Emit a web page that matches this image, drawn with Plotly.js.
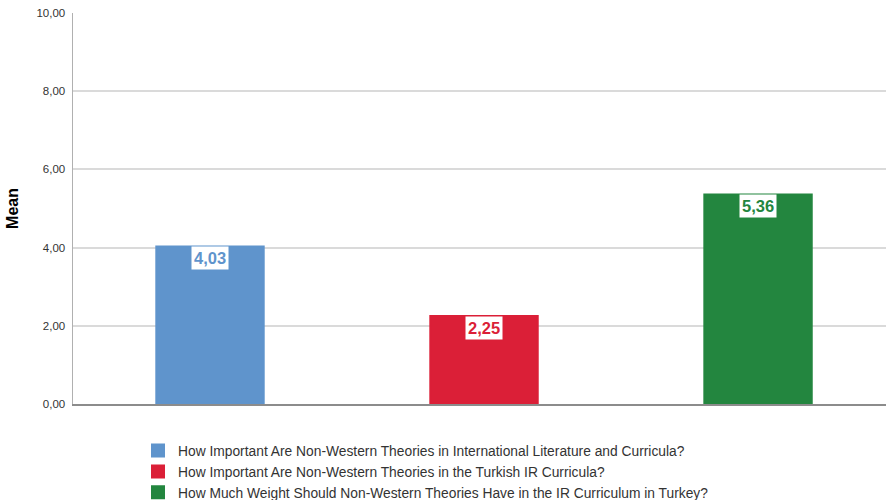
<!DOCTYPE html>
<html>
<head>
<meta charset="utf-8">
<script src="https://cdn.plot.ly/plotly-3.0.1.min.js"></script>
<style>
  html, body { margin: 0; padding: 0; background: #ffffff; }
  #chart { width: 886px; height: 500px; }
</style>
</head>
<body>
<div id="chart"></div>
<script>
// Survey questions (one bar each) and their mean scores
const questions = [
  "How Important Are Non-Western Theories in International Literature and Curricula?",
  "How Important Are Non-Western Theories in the Turkish IR Curricula?",
  "How Much Weight Should Non-Western Theories Have in the IR Curriculum in Turkey?"
];
const means = [4.03, 2.25, 5.36];
const barColors = ["#5f94cc", "#db1f37", "#23863f"];
const yTicks = [0, 2, 4, 6, 8, 10];

const traces = questions.map((q, i) => ({
  type: "bar",
  name: q,
  x: [i],
  y: [means[i]],
  width: 0.392,
  marker: { color: barColors[i], line: { width: 2, color: barColors[i] } },
  hoverinfo: "skip"
}));

// Value labels: white box at the top inside each bar
const labels = questions.map((q, i) => ({
  x: i,
  y: means[i],
  xref: "x",
  yref: "y",
  text: means[i].toFixed(2).replace(".", ","),
  showarrow: false,
  yanchor: "top",
  yshift: 0,
  bgcolor: "#ffffff",
  borderpad: 2,
  font: { family: "Arial, Liberation Sans, sans-serif", size: 16.5, weight: "bold", color: barColors[i] }
}));

const layout = {
  width: 886,
  height: 500,
  margin: { l: 73, r: 0, t: 13, b: 96, autoexpand: false },
  paper_bgcolor: "#ffffff",
  plot_bgcolor: "#ffffff",
  separators: ",.",
  barmode: "overlay",
  showlegend: true,
  font: { family: "Arial, Liberation Sans, sans-serif", color: "#333333" },
  xaxis: {
    range: [-0.5, 2.467],
    showticklabels: false,
    ticks: "",
    showgrid: false,
    zeroline: false,
    showline: true,
    linecolor: "#8c8c8c",
    linewidth: 1.5,
    fixedrange: true,
    automargin: false
  },
  yaxis: {
    range: [0, 10],
    tickvals: yTicks,
    tickformat: ".2f",
    ticks: "",
    ticklabelstandoff: 4,
    tickfont: { size: 11.5, color: "#333333" },
    showgrid: true,
    gridcolor: "#dadada",
    gridwidth: 2,
    zeroline: false,
    showline: true,
    linecolor: "#b0b0b0",
    linewidth: 1.5,
    title: { text: "Mean", font: { size: 16, color: "#000000", weight: "bold" }, standoff: 14 },
    fixedrange: true,
    automargin: false
  },
  legend: {
    x: (138 - 73) / 813,
    y: -(435 - 404) / 391,
    xanchor: "left",
    yanchor: "top",
    orientation: "v",
    font: { size: 13.8, color: "#333333" },
    itemwidth: 30,
    tracegroupgap: 0,
    bgcolor: "rgba(0,0,0,0)"
  },
  annotations: labels
};

Plotly.newPlot("chart", traces, layout, { displayModeBar: false, staticPlot: true });
</script>
</body>
</html>
